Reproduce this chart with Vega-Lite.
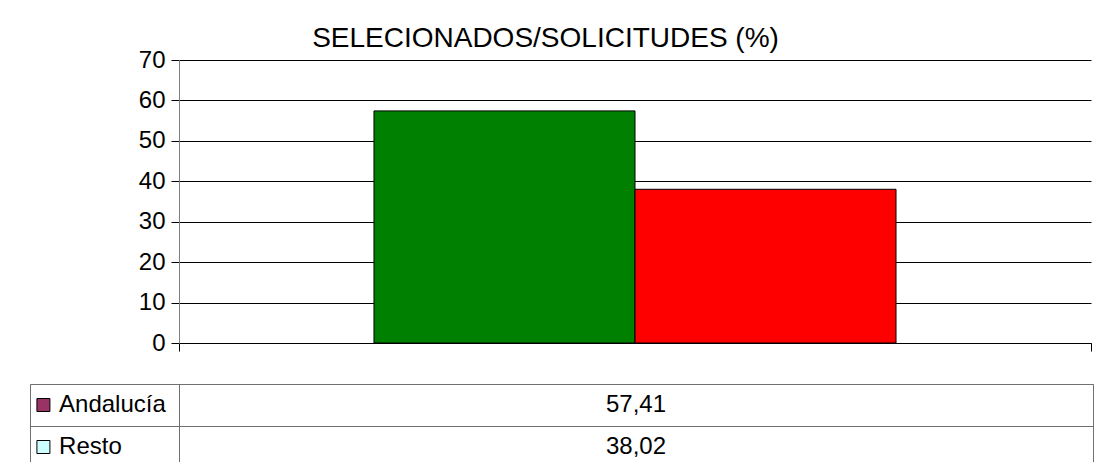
{
  "$schema": "https://vega.github.io/schema/vega-lite/v6.json",
  "background": "white",
  "padding": {"left": 29, "top": 25, "right": 8, "bottom": 0},
  "config": {
    "font": "Liberation Sans",
    "locale": {"number": {"decimal": ",", "thousands": ".", "grouping": [3], "currency": ["", " €"]}},
    "view": {"stroke": null},
    "axis": {"labelFont": "Liberation Sans", "labelColor": "black", "titleColor": "black"}
  },
  "title": {"text": "SELECIONADOS/SOLICITUDES (%)", "fontSize": 28, "fontWeight": "normal", "color": "black", "anchor": "middle", "offset": -5, "dx": -16},
  "datasets": {
    "d": [
      {"grupo": "SELECIONADOS/SOLICITUDES", "serie": "Andalucía", "valor": 57.41},
      {"grupo": "SELECIONADOS/SOLICITUDES", "serie": "Resto", "valor": 38.02}
    ]
  },
  "columns": 2,
  "spacing": {"row": 41, "column": 0},
  "bounds": "flush",
  "resolve": {"scale": {"color": "independent"}},
  "concat": [
    {
      "width": 149, "height": 283,
      "data": {"values": []},
      "mark": "point",
      "encoding": {}
    },
    {
      "width": 912, "height": 283,
      "data": {"name": "d"},
      "mark": {"type": "bar", "stroke": "black", "strokeWidth": 1},
      "encoding": {
        "x": {"field": "grupo", "type": "nominal", "title": null,
              "scale": {"paddingInner": 0, "paddingOuter": 0},
              "axis": {"labels": false, "ticks": true, "tickSize": 8, "tickColor": "black", "domainColor": "black", "tickBand": "extent", "grid": false}},
        "xOffset": {"field": "serie", "type": "nominal", "sort": null, "scale": {"paddingInner": 0, "paddingOuter": 0.747}},
        "y": {"field": "valor", "type": "quantitative", "title": null,
              "scale": {"domain": [0, 70], "nice": false},
              "axis": {"values": [0, 10, 20, 30, 40, 50, 60, 70], "grid": true, "gridColor": "black", "gridOpacity": 1, "gridWidth": 1,
                       "domainColor": "#808080", "tickColor": "black", "tickSize": 8, "labelFontSize": 24, "labelPadding": 6}},
        "color": {"field": "serie", "type": "nominal", "legend": null,
                  "scale": {"domain": ["Andalucía", "Resto"], "range": ["#008000", "#FF0000"]}}
      }
    },
    {
      "width": 149, "height": 84,
      "data": {"name": "d"},
      "view": {"stroke": "#707070", "strokeWidth": 1},
      "encoding": {
        "y": {"field": "serie", "type": "nominal", "sort": null, "title": null,
              "scale": {"paddingInner": 0, "paddingOuter": 0},
              "axis": {"labels": false, "ticks": false, "domain": false, "grid": true, "tickBand": "extent", "gridColor": "#707070", "gridOpacity": 1}}
      },
      "layer": [
        {
          "mark": {"type": "square", "size": 169, "filled": true, "opacity": 1, "stroke": "black", "strokeWidth": 1},
          "encoding": {
            "x": {"datum": 0.09, "type": "quantitative", "scale": {"domain": [0, 1]}, "axis": null},
            "color": {"field": "serie", "type": "nominal", "legend": null,
                      "scale": {"domain": ["Andalucía", "Resto"], "range": ["#993366", "#CCFFFF"]}}
          }
        },
        {
          "mark": {"type": "text", "align": "left", "baseline": "middle", "fontSize": 24, "color": "black"},
          "encoding": {
            "x": {"datum": 0.195, "type": "quantitative", "scale": {"domain": [0, 1]}, "axis": null},
            "text": {"field": "serie", "type": "nominal"}
          }
        }
      ]
    },
    {
      "width": 914, "height": 84,
      "data": {"name": "d"},
      "view": {"stroke": "#707070", "strokeWidth": 1},
      "mark": {"type": "text", "align": "center", "baseline": "middle", "fontSize": 24, "color": "black"},
      "encoding": {
        "y": {"field": "serie", "type": "nominal", "sort": null, "title": null,
              "scale": {"paddingInner": 0, "paddingOuter": 0},
              "axis": {"labels": false, "ticks": false, "domain": false, "grid": true, "tickBand": "extent", "gridColor": "#707070", "gridOpacity": 1}},
        "text": {"field": "valor", "type": "quantitative", "format": ".2f"}
      }
    }
  ]
}
